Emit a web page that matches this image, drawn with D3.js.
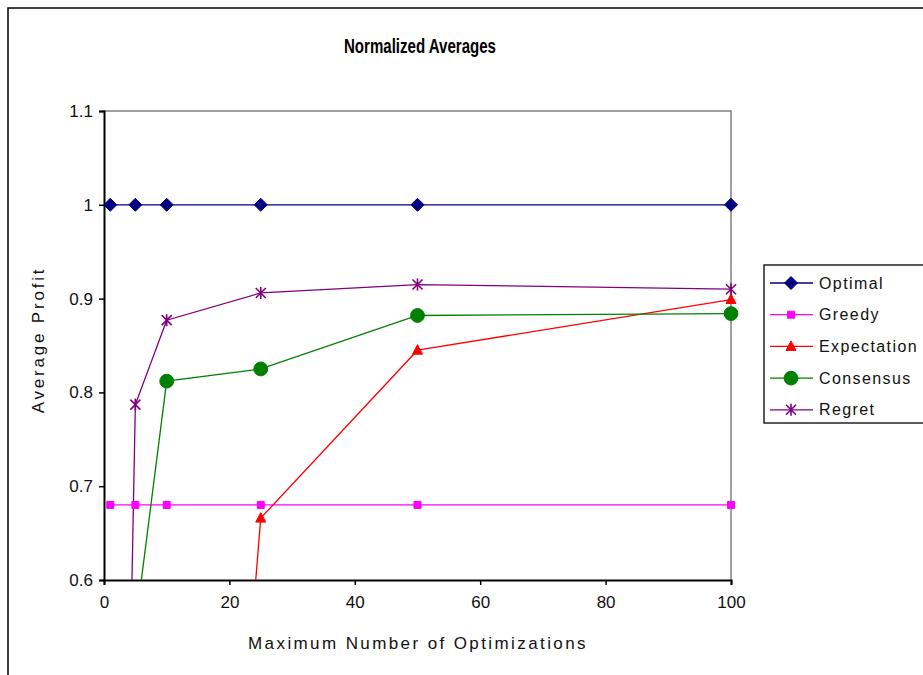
<!DOCTYPE html>
<html>
<head>
<meta charset="utf-8">
<script src="https://cdn.jsdelivr.net/npm/d3@7"></script>
<style>
  body { margin: 0; background: #fff; }
  text { font-family: "Liberation Sans", Arial, sans-serif; }
</style>
</head>
<body>
<script>
// values
const xValues = [1, 5, 10, 25, 50, 100]
const optimal = [1, 1, 1, 1, 1, 1]
const greedy = [0.68, 0.68, 0.68, 0.68, 0.68, 0.68]
const expectation = [null, null, -0.57, 0.666, 0.845, 0.899]
const consensus = [null, 0.55, 0.812, 0.825, 0.882, 0.884]
const regret = [-0.6, 0.787, 0.877, 0.906, 0.915, 0.91]
const seriesNames = ['Optimal', 'Greedy', 'Expectation', 'Consensus', 'Regret']
const xTicks = [0, 20, 40, 60, 80, 100]
const yTicks = [0.6, 0.7, 0.8, 0.9, 1, 1.1]

const colors = ['#000080', '#ff00ff', '#ff0000', '#008000', '#800080']
const shapes = ['diamond', 'square', 'triangle', 'circle', 'star']
const allValues = [optimal, greedy, expectation, consensus, regret]

const series = seriesNames.map((name, i) => ({
  name,
  color: colors[i],
  shape: shapes[i],
  points: xValues.map((x, j) => ({x, y: allValues[i][j]})).filter(p => p.y !== null)
}))

const width = 923
const height = 675
const plot = {left: 104, top: 111, right: 731, bottom: 580}

const svg = d3.select('body').append('svg')
  .attr('width', width)
  .attr('height', height)

// outer chart frame (runs off the right and bottom edges)
svg.append('rect')
  .attr('x', 8).attr('y', 8)
  .attr('width', 940).attr('height', 700)
  .attr('fill', 'none')
  .attr('stroke', '#000')
  .attr('stroke-width', 1.5)

const xScale = d3.scaleLinear()
  .domain([0, 100])
  .range([plot.left, plot.right])

const yScale = d3.scaleLinear()
  .domain([0.6, 1.1])
  .range([plot.bottom, plot.top])

// plot area border (top/right gray)
svg.append('path')
  .attr('d', `M${plot.left},${plot.top}H${plot.right}V${plot.bottom}`)
  .attr('fill', 'none')
  .attr('stroke', '#808080')
  .attr('stroke-width', 1.5)

svg.append('clipPath').attr('id', 'clip')
  .append('rect')
  .attr('x', plot.left).attr('y', plot.top)
  .attr('width', plot.right - plot.left).attr('height', plot.bottom - plot.top)

const xAxis = d3.axisBottom(xScale)
  .tickValues(xTicks)
  .tickSize(5)
  .tickPadding(11)

const yAxis = d3.axisLeft(yScale)
  .tickValues(yTicks)
  .tickFormat(d3.format('~g'))
  .tickSize(5)
  .tickPadding(6)

const xAxisGroup = svg.append('g')
  .attr('transform', `translate(0,${plot.bottom})`)
  .call(xAxis)

const yAxisGroup = svg.append('g')
  .attr('transform', `translate(${plot.left},0)`)
  .call(yAxis)

;[xAxisGroup, yAxisGroup].forEach(g => {
  g.select('.domain').attr('stroke', '#000').attr('stroke-width', 2)
  g.selectAll('.tick line').attr('stroke', '#000').attr('stroke-width', 1.5)
  g.selectAll('.tick text')
    .attr('font-size', 17)
    .attr('font-family', '"Liberation Sans", Arial, sans-serif')
    .attr('fill', '#111')
})

const line = d3.line()
  .x(d => xScale(d.x))
  .y(d => yScale(d.y))

const linesGroup = svg.append('g').attr('clip-path', 'url(#clip)')

linesGroup.selectAll('path')
  .data(series)
  .join('path')
  .attr('d', d => line(d.points))
  .attr('fill', 'none')
  .attr('stroke', d => d.color)
  .attr('stroke-width', 1.3)

function marker(shape) {
  if (shape === 'diamond') return 'M0,-6.5L6.5,0L0,6.5L-6.5,0Z'
  if (shape === 'square') return 'M-3.5,-3.5H3.5V3.5H-3.5Z'
  if (shape === 'triangle') return 'M0,-5.5L5,4L-5,4Z'
  if (shape === 'circle') return d3.symbol(d3.symbolCircle, 150)()
  return 'M-5,-5L5,5M-5,5L5,-5M0,-6V6'
}

function drawMarker(g, shape, color) {
  g.append('path')
    .attr('d', marker(shape))
    .attr('fill', shape === 'star' ? 'none' : color)
    .attr('stroke', color)
    .attr('stroke-width', shape === 'star' ? 1.6 : 1)
}

series.forEach(s => {
  s.points
    .filter(p => p.y >= 0.6 && p.y <= 1.1)
    .forEach(p => {
      const g = svg.append('g')
        .attr('transform', `translate(${xScale(p.x)},${yScale(p.y)})`)
      drawMarker(g, s.shape, s.color)
    })
})

// title and axis titles
svg.append('text')
  .attr('x', 420).attr('y', 53)
  .attr('text-anchor', 'middle')
  .attr('font-size', 20)
  .attr('font-weight', 'bold')
  .attr('textLength', 152)
  .attr('lengthAdjust', 'spacingAndGlyphs')
  .text('Normalized Averages')

svg.append('text')
  .attr('x', 418).attr('y', 649)
  .attr('text-anchor', 'middle')
  .attr('font-size', 17)
  .attr('letter-spacing', 2.4)
  .attr('fill', '#111')
  .text('Maximum Number of Optimizations')

svg.append('text')
  .attr('transform', 'translate(44,340) rotate(-90)')
  .attr('text-anchor', 'middle')
  .attr('font-size', 17)
  .attr('letter-spacing', 2.8)
  .attr('fill', '#111')
  .text('Average Profit')

// legend
const legend = svg.append('g')
legend.append('rect')
  .attr('x', 764).attr('y', 265)
  .attr('width', 200).attr('height', 158)
  .attr('fill', '#fff')
  .attr('stroke', '#000')
  .attr('stroke-width', 1.3)

const legendItems = legend.selectAll('g.item')
  .data(series)
  .join('g')
  .attr('class', 'item')
  .attr('transform', (d, i) => `translate(0,${283 + i * 31.7})`)

legendItems.append('line')
  .attr('x1', 770).attr('x2', 813)
  .attr('stroke', d => d.color)
  .attr('stroke-width', 1.3)

legendItems.each(function(d) {
  const g = d3.select(this).append('g').attr('transform', 'translate(791,0)')
  drawMarker(g, d.shape, d.color)
})

legendItems.append('text')
  .attr('x', 819)
  .attr('dy', '0.35em')
  .attr('font-size', 16)
  .attr('letter-spacing', 1.4)
  .attr('fill', '#111')
  .text(d => d.name)
</script>
</body>
</html>
